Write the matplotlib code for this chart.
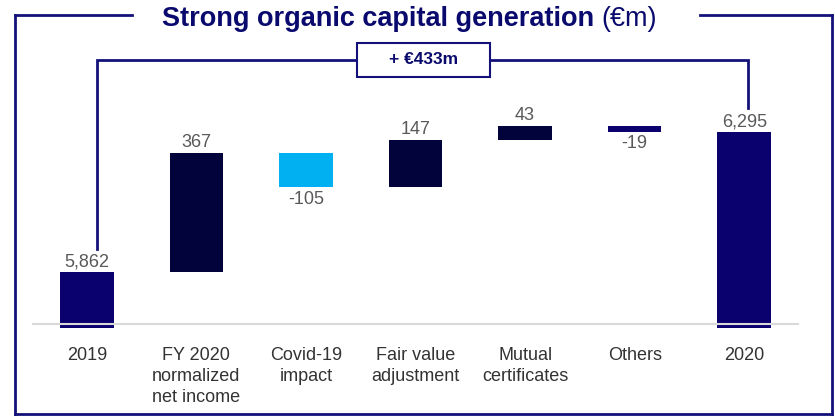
import matplotlib
matplotlib.use("Agg")
import matplotlib.pyplot as plt
from matplotlib.lines import Line2D
from matplotlib.patches import Rectangle

plt.rcParams['font.family'] = ['Liberation Sans', 'DejaVu Sans']

# data (EUR m)
categories = ["2019", "FY 2020\nnormalized\nnet income", "Covid-19\nimpact",
              "Fair value\nadjustment", "Mutual\ncertificates", "Others", "2020"]
start_value = 5862
changes = [367, -105, 147, 43, -19]
end_value = 6295
labels = ["5,862", "367", "-105", "147", "43", "-19", "6,295"]
uplift_text = "+ €433m"

NAVY = "#0A006E"
DARK = "#02033A"
LIGHT = "#00B0F0"
LINE = "#14127A"

W, H = 835, 416
fig = plt.figure(figsize=(W / 100, H / 100), dpi=100)

# axes placed so the waterfall lines up with the reference
ax = fig.add_axes([32 / W, 86 / H, (799 - 32) / W, 300 / H])
ymin, ymax = 5682.6, 6610.5
ax.set_xlim(-0.5, 6.5)
ax.set_ylim(ymin, ymax)
base = 5689

# totals
ax.bar(0, start_value - base, bottom=base, width=0.49, color=NAVY, zorder=2)
ax.bar(6, end_value - base, bottom=base, width=0.49, color=NAVY, zorder=2)

# floating steps
running = start_value
for i, ch in enumerate(changes, start=1):
    lo = min(running, running + ch)
    if ch < 0:
        col = LIGHT if i == 2 else NAVY
    else:
        col = DARK
    ax.bar(i, abs(ch), bottom=lo, width=0.49, color=col, zorder=2)
    if ch >= 0:
        ax.text(i, running + ch + 6, labels[i], ha='center', va='bottom',
                fontsize=13, color='#595959')
    else:
        ax.text(i, running + ch - 10, labels[i], ha='center', va='top',
                fontsize=13, color='#595959')
    running += ch

ax.text(0, start_value + 6, labels[0], ha='center', va='bottom', fontsize=13, color='#595959')
ax.text(6, end_value + 6, labels[6], ha='center', va='bottom', fontsize=13, color='#595959')

# baseline
ax.axhline(5701, color='#D9D9D9', lw=1.5, zorder=3)

ax.set_xticks(range(len(categories)))
ax.set_xticklabels(categories, fontsize=13, color='#333333', linespacing=1.33)
ax.tick_params(axis='x', length=0, pad=12)
ax.set_yticks([])
for s in ax.spines.values():
    s.set_visible(False)

# bracket showing the total uplift
bx0, bx1 = 0.09, 6.03
ytop = 6518
ax.plot([bx0, bx0, bx1, bx1], [5933, ytop, ytop, 6369], color=LINE, lw=2,
        clip_on=False, zorder=4, solid_joinstyle='miter')
ax.add_patch(Rectangle((2.464, 6465), 3.677 - 2.464, 6570 - 6465, facecolor='white',
                       edgecolor=LINE, lw=1.5, clip_on=False, zorder=5))
ax.text(3.07, ytop, uplift_text, ha='center', va='center', fontsize=12.5,
        fontweight='bold', color='#0A0A6E', zorder=6)

# outer frame
def fx(px):
    return px / W

def fy(py):
    return 1 - py / H

frame = [([15, 132], [15, 15]), ([700, 832], [15, 15]),
         ([15, 15], [15, 414]), ([832, 832], [15, 414]), ([15, 832], [414, 414])]
for xs, ys in frame:
    fig.add_artist(Line2D([fx(x) for x in xs], [fy(y) for y in ys], color=LINE, lw=2,
                          transform=fig.transFigure, solid_capstyle='projecting'))

# title, bold part + normal part
t1 = fig.text(fx(162), fy(26), "Strong organic capital generation ", fontsize=19.5,
              fontweight='bold', color='#0A0A6E', va='baseline', ha='left')
fig.canvas.draw()
bb = t1.get_window_extent()
fig.text(bb.x1 / W, fy(26), "(€m)", fontsize=19.5, color='#0A0A6E', va='baseline', ha='left')

fig.savefig("out.png", dpi=100)
